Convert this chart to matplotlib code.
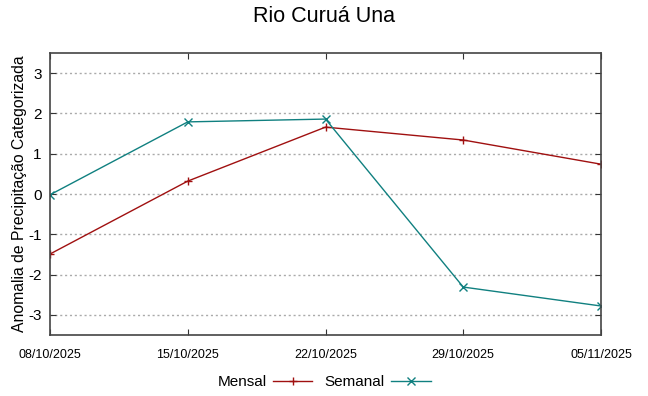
import matplotlib
matplotlib.use("Agg")
import matplotlib.pyplot as plt
from datetime import datetime

plt.rcParams["font.family"] = ["Liberation Sans", "DejaVu Sans"]
plt.rcParams["axes.unicode_minus"] = False

dates = ["08/10/2025", "15/10/2025", "22/10/2025", "29/10/2025", "05/11/2025"]
mensal = [-1.49, 0.32, 1.66, 1.34, 0.74]
semanal = [-0.02, 1.79, 1.86, -2.31, -2.78]
yticks = [-3, -2, -1, 0, 1, 2, 3]

x = [datetime.strptime(d, "%d/%m/%Y") for d in dates]

fig = plt.figure(figsize=(6.48, 3.96), dpi=100)
ax = fig.add_axes([50 / 648, 61 / 396, 551 / 648, 282 / 396])

l1, = ax.plot(x, mensal, color="#a01010", lw=1.0, marker="+", ms=6, mew=1.0, label="Mensal")
l2, = ax.plot(x, semanal, color="#108080", lw=1.0, marker="x", ms=6, mew=1.0, label="Semanal")

ax.set_xlim(x[0], x[-1])
ax.set_ylim(-3.5, 3.5)
ax.set_yticks(yticks)
ax.set_xticks(x)
ax.set_xticklabels(dates)
ax.tick_params(direction="in", length=4, top=True, right=True, labelsize=11, color="#333333")
ax.tick_params(axis="x", labelsize=9, pad=10)
ax.tick_params(axis="y", pad=6)
ax.yaxis.grid(True, linestyle=(0, (1.5, 2)), color="#aaaaaa", lw=1.0)
for s in ax.spines.values():
    s.set_color("#444444")
    s.set_linewidth(1.2)

ax.set_ylabel("Anomalia de Precipitação Categorizada", fontsize=11.3, labelpad=1)
fig.suptitle("Rio Curuá Una", fontsize=15.5, y=0.985)

fig.legend(handles=[l1, l2], loc="lower center", ncol=2, frameon=False,
           markerfirst=False, fontsize=11, bbox_to_anchor=(0.5, -0.018),
           handlelength=2.6, columnspacing=0.8, handletextpad=0.4)

fig.savefig("out.png", dpi=100)
